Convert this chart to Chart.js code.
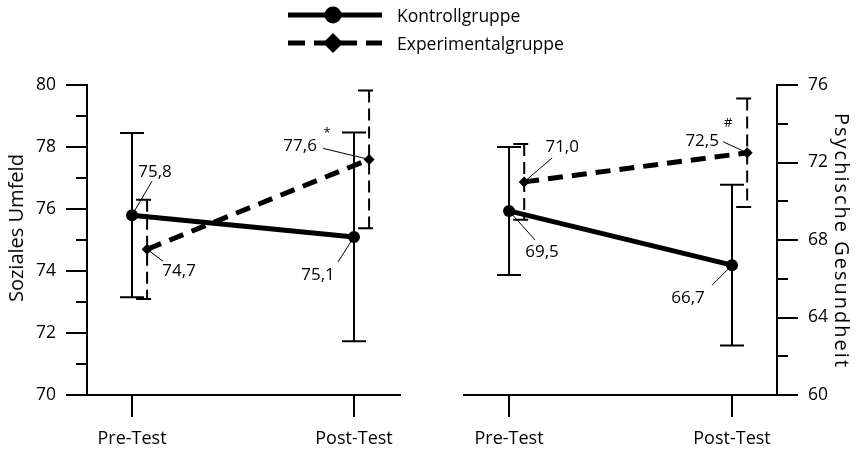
<!DOCTYPE html>
<html>
<head>
<meta charset="utf-8">
<script src="https://cdn.jsdelivr.net/npm/chart.js@4/dist/chart.umd.min.js"></script>
<style>
  html, body { margin: 0; padding: 0; background: #fff; }
  #wrap { position: relative; width: 860px; height: 449px; overflow: hidden;
          font-family: 'Open Sans', sans-serif; color: #000; }
  #wrap canvas { position: absolute; top: 0; }
  #cLeft { left: 0; }
  #cRight { left: 430px; }
  .axisTitle { position: absolute; font-size: 20px; line-height: 20px; white-space: nowrap; }
  .legText { position: absolute; left: 397px; font-size: 17.5px; line-height: 24px; white-space: nowrap; }
  #legSym { position: absolute; left: 0; top: 0; }
</style>
</head>
<body>
<div id="wrap">
  <canvas id="cLeft" width="430" height="449"></canvas>
  <canvas id="cRight" width="430" height="449"></canvas>
  <div class="axisTitle" id="titleLeft"></div>
  <div class="axisTitle" id="titleRight"></div>
  <svg id="legSym" width="400" height="60"></svg>
</div>
<script>
// Messzeitpunkte und Gruppen
const phases = ['Pre-Test', 'Post-Test'];
const groups = ['Kontrollgruppe', 'Experimentalgruppe'];

// Soziales Umfeld: Mittelwerte und Standardabweichungen
const sozialKontroll = [75.8, 75.1];
const sozialKontrollSD = [2.65, 3.37];
const sozialExperimental = [74.7, 77.6];
const sozialExperimentalSD = [1.6, 2.22];
const sozialMarks = ['', '*'];

// Psychische Gesundheit: Mittelwerte und Standardabweichungen
const gesundKontroll = [69.5, 66.7];
const gesundKontrollSD = [3.3, 4.15];
const gesundExperimental = [71.0, 72.5];
const gesundExperimentalSD = [1.95, 2.8];
const gesundMarks = ['', '#'];

// Achsen
const sozialTitle = 'Soziales Umfeld';
const gesundTitle = 'Psychische Gesundheit';
const sozialRange = [70, 80];
const sozialStep = 2;
const gesundRange = [60, 76];
const gesundStep = 4;

Chart.defaults.font.family = "'Open Sans', sans-serif";
Chart.defaults.color = '#000';

const DODGE = 0.068;           // horizontal offset of the experimental group
const fmt = v => v.toFixed(1).replace('.', ',');
const toPoints = (vals, dx) => vals.map((v, i) => ({ x: i + 1 + dx, y: v }));

// vertical error bars (mean ± SD)
const errorBars = {
  id: 'errorBars',
  beforeDatasetsDraw(chart) {
    const ctx = chart.ctx, ys = chart.scales.y;
    chart.data.datasets.forEach((ds, di) => {
      const meta = chart.getDatasetMeta(di);
      meta.data.forEach((pt, i) => {
        const v = ds.data[i].y, s = ds.sd[i];
        const top = ys.getPixelForValue(v + s), bot = ys.getPixelForValue(v - s);
        ctx.save();
        ctx.strokeStyle = '#000';
        ctx.lineWidth = 2;
        ctx.setLineDash(ds.errDash);
        ctx.beginPath();
        ctx.moveTo(pt.x, top); ctx.lineTo(pt.x, bot);
        ctx.stroke();
        ctx.setLineDash([]);
        ctx.beginPath();
        ctx.moveTo(pt.x - ds.capL, top); ctx.lineTo(pt.x + ds.capR, top);
        ctx.moveTo(pt.x - ds.capL, bot); ctx.lineTo(pt.x + ds.capR, bot);
        ctx.stroke();
        ctx.restore();
      });
    });
  }
};

// value labels with leader lines and significance marks
const valueLabels = {
  id: 'valueLabels',
  afterDatasetsDraw(chart) {
    const ctx = chart.ctx;
    chart.data.datasets.forEach((ds, di) => {
      const meta = chart.getDatasetMeta(di);
      meta.data.forEach((pt, i) => {
        const n = ds.notes[i];
        ctx.save();
        ctx.strokeStyle = '#000';
        ctx.lineWidth = 1;
        ctx.beginPath();
        ctx.moveTo(pt.x, pt.y);
        ctx.lineTo(pt.x + n.lx, pt.y + n.ly);
        ctx.stroke();
        ctx.fillStyle = '#000';
        ctx.textAlign = 'center';
        ctx.textBaseline = 'middle';
        ctx.font = "17px 'Open Sans', sans-serif";
        ctx.fillText(fmt(ds.data[i].y), pt.x + n.tx, pt.y + n.ty);
        if (ds.marks && ds.marks[i]) {
          ctx.font = "13px 'Open Sans', sans-serif";
          ctx.fillText(ds.marks[i], pt.x + n.mx, pt.y + n.my);
        }
        ctx.restore();
      });
    });
  }
};

// short unlabeled ticks between the labeled ones
const minorTicks = {
  id: 'minorTicks',
  afterDraw(chart, args, opts) {
    const ys = chart.scales.y, ctx = chart.ctx;
    const onRight = ys.options.position === 'right';
    const axisX = onRight ? ys.left : ys.right;
    const dir = onRight ? 1 : -1;
    const step = ys.options.ticks.stepSize;
    ctx.save();
    ctx.strokeStyle = '#000';
    ctx.lineWidth = 2;
    ctx.beginPath();
    for (let v = ys.min + step / 2; v < ys.max; v += step) {
      const py = Math.round(ys.getPixelForValue(v));
      ctx.moveTo(axisX, py);
      ctx.lineTo(axisX + dir * opts.length, py);
    }
    ctx.stroke();
    ctx.restore();
  }
};

function makePanel(canvasId, p) {
  const axisStyle = { color: '#000', width: 2 };
  return new Chart(document.getElementById(canvasId), {
    type: 'line',
    data: {
      datasets: [
        {
          label: groups[0], data: toPoints(p.kontroll, 0), sd: p.kontrollSD,
          borderColor: '#000', borderWidth: 5, fill: false, tension: 0,
          pointStyle: 'circle', pointRadius: 6, pointBackgroundColor: '#000', pointBorderWidth: 0,
          errDash: [], capL: 12, capR: 12, notes: p.kontrollNotes
        },
        {
          label: groups[1], data: toPoints(p.experimental, DODGE), sd: p.experimentalSD,
          borderColor: '#000', borderWidth: 5, borderDash: [15, 9], fill: false, tension: 0,
          pointStyle: 'rectRot', pointRadius: 5.5, pointBackgroundColor: '#000', pointBorderWidth: 0,
          errDash: [12, 6], capL: 11, capR: 4, notes: p.experimentalNotes, marks: p.marks
        }
      ]
    },
    options: {
      responsive: false, animation: false, events: [],
      layout: { padding: p.padding },
      plugins: { legend: { display: false }, tooltip: { enabled: false }, minorTicks: { length: 11 } },
      scales: {
        x: {
          type: 'linear', position: 'bottom', min: p.xRange[0], max: p.xRange[1],
          afterBuildTicks: s => { s.ticks = phases.map((_, i) => ({ value: i + 1 })); },
          afterFit: s => { s.height = 54; },
          ticks: { callback: v => phases[Math.round(v) - 1], padding: 11, autoSkip: false,
                   maxRotation: 0, font: { size: 18 }, color: '#000' },
          grid: { drawOnChartArea: false, drawTicks: true, tickLength: 22, color: '#000', lineWidth: 2 },
          border: axisStyle
        },
        y: {
          type: 'linear', min: p.range[0], max: p.range[1], position: p.yPosition,
          afterFit: s => { s.width = p.yWidth; },
          ticks: { stepSize: p.step, padding: 10, font: { size: 17.5 }, color: '#000' },
          grid: { drawOnChartArea: false, drawTicks: true, tickLength: 21, color: '#000', lineWidth: 2 },
          border: axisStyle
        }
      }
    },
    plugins: [errorBars, valueLabels, minorTicks]
  });
}

makePanel('cLeft', {
  kontroll: sozialKontroll, kontrollSD: sozialKontrollSD,
  experimental: sozialExperimental, experimentalSD: sozialExperimentalSD,
  marks: sozialMarks,
  range: sozialRange, step: sozialStep,
  xRange: [0.7973, 2.2072], yPosition: 'left', yWidth: 87,
  padding: { left: 0, right: 30, top: 85, bottom: 0 },
  kontrollNotes: [
    { tx: 23, ty: -43, lx: 20, ly: -34 },
    { tx: -36, ty: 38, lx: -16, ly: 25 }
  ],
  experimentalNotes: [
    { tx: 32, ty: 22, lx: 16, ly: 12 },
    { tx: -69, ty: -13, lx: -46, ly: -11, mx: -42, my: -26 }
  ]
});

makePanel('cRight', {
  kontroll: gesundKontroll, kontrollSD: gesundKontrollSD,
  experimental: gesundExperimental, experimentalSD: gesundExperimentalSD,
  marks: gesundMarks,
  range: gesundRange, step: gesundStep,
  xRange: [0.798, 2.2018], yPosition: 'right', yWidth: 83,
  padding: { left: 34, right: 0, top: 85, bottom: 0 },
  kontrollNotes: [
    { tx: 33, ty: 41, lx: 26, ly: 29 },
    { tx: -44, ty: 33, lx: -20, ly: 20 }
  ],
  experimentalNotes: [
    { tx: 38, ty: -35, lx: 28, ly: -24 },
    { tx: -45, ty: -12, lx: -24, ly: -11, mx: -19, my: -30 }
  ]
});

// axis titles
const tL = document.getElementById('titleLeft');
tL.textContent = sozialTitle;
Object.assign(tL.style, { left: '16px', top: '228px', transform: 'translate(-50%,-50%) rotate(-90deg)' });
const tR = document.getElementById('titleRight');
tR.textContent = gesundTitle;
Object.assign(tR.style, { left: '842px', top: '241px', letterSpacing: '2px',
                          transform: 'translate(-50%,-50%) rotate(90deg)' });

// legend
const svgNS = 'http://www.w3.org/2000/svg';
const legSvg = document.getElementById('legSym');
const rows = [15, 43];
groups.forEach((g, i) => {
  const y = rows[i];
  const line = document.createElementNS(svgNS, 'line');
  line.setAttribute('x1', 288); line.setAttribute('x2', 382);
  line.setAttribute('y1', y); line.setAttribute('y2', y);
  line.setAttribute('stroke', '#000'); line.setAttribute('stroke-width', 5);
  if (i === 1) line.setAttribute('stroke-dasharray', '17 9');
  legSvg.appendChild(line);
  let mark;
  if (i === 0) {
    mark = document.createElementNS(svgNS, 'circle');
    mark.setAttribute('cx', 333); mark.setAttribute('cy', y); mark.setAttribute('r', 8.5);
  } else {
    mark = document.createElementNS(svgNS, 'polygon');
    mark.setAttribute('points', `333,${y - 10} 343,${y} 333,${y + 10} 323,${y}`);
  }
  mark.setAttribute('fill', '#000');
  legSvg.appendChild(mark);
  const t = document.createElement('div');
  t.className = 'legText';
  t.style.top = (y - 12) + 'px';
  t.textContent = g;
  document.getElementById('wrap').appendChild(t);
});
</script>
</body>
</html>
